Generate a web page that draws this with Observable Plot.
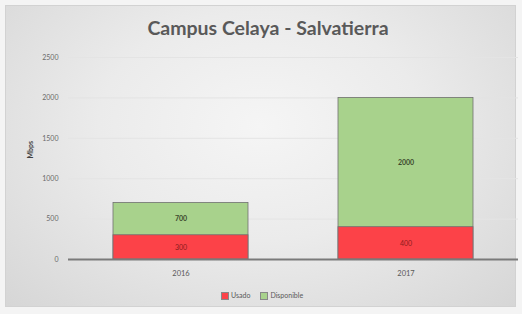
<!DOCTYPE html>
<html><head><meta charset="utf-8">
<script src="https://cdn.jsdelivr.net/npm/d3@7"></script>
<script src="https://cdn.jsdelivr.net/npm/@observablehq/plot@0.6"></script>
<style>
body{margin:0;background:#f4f4f4;}
#wrap{position:relative;width:522px;height:314px;overflow:hidden;font-family:Lato,"Open Sans",sans-serif;}
#panel{position:absolute;left:5px;top:5px;width:511px;height:302px;box-sizing:border-box;
 background:radial-gradient(ellipse at 50% 40%, #f5f5f5 0%, #ebebeb 45%, #d6d6d6 100%);border:1px solid #d2d2d2;}
#title{position:absolute;left:0;width:536px;top:16px;text-align:center;font-weight:bold;font-size:19.5px;color:#595959;}
#chart{position:absolute;left:0;top:0;}
#legend{position:absolute;top:291px;left:221px;font-size:7px;color:#595959;display:flex;align-items:center;gap:4px;}
.sw{display:inline-block;width:6px;height:6px;margin-right:2px;vertical-align:middle;}
</style></head>
<body>
<div id="wrap"><div id="panel"></div><div id="title">Campus Celaya - Salvatierra</div><div id="chart"></div>
<div id="legend"></div></div>
<script>
const years = ["2016", "2017"];
const usado = [300, 400];
const disponible = [700, 2000];
const yTicks = [0, 500, 1000, 1500, 2000, 2500];
const seriesNames = ["Usado", "Disponible"];
const seriesColors = ["#fc4248", "#a8d28c"];

const rows = years.map((yr, i) => ({year: yr, usado: usado[i], disponible: disponible[i]}));

const plot = Plot.plot({
  width: 522, height: 314,
  marginLeft: 68, marginRight: 4, marginTop: 57, marginBottom: 55,
  style: {background: "transparent", fontFamily: "Lato, sans-serif", overflow: "visible"},
  x: {domain: years, paddingInner: 0.4, paddingOuter: 0.2, label: null},
  y: {domain: [0, 2500], ticks: yTicks, label: null},
  marks: [
    Plot.gridY(yTicks, {stroke: "#e4e4e4", strokeOpacity: 1, strokeWidth: 1}),
    Plot.barY(rows, {x: "year", y1: 0, y2: "disponible", fill: seriesColors[1], stroke: "#707070", strokeWidth: 0.8}),
    Plot.barY(rows, {x: "year", y1: 0, y2: "usado", fill: seriesColors[0], stroke: "#707070", strokeWidth: 0.8}),
    Plot.ruleY([0], {stroke: "#7a7a7a", strokeWidth: 2}),
    Plot.axisY(yTicks, {tickSize: 0, tickPadding: 10, fontSize: 7, fill: "#6a6a6a", label: null, tickFormat: d3.format("d")}),
    Plot.axisX({tickSize: 0, tickPadding: 11, fontSize: 7.5, fill: "#595959", label: null}),
    Plot.text(rows, {x: "year", y: d => d.usado / 2, text: d => String(d.usado), fontSize: 7, fill: "#8a1c1c"}),
    Plot.text(rows, {x: "year", y: d => (d.usado + d.disponible) / 2, text: d => String(d.disponible), fontSize: 7, fontWeight: "bold", fill: "#3d4a2e"}),
    Plot.text(["Mbps"], {frameAnchor: "left", dx: -38, dy: 0, rotate: -90, fontSize: 7, fontWeight: "bold", fill: "#404040"})
  ]
});
document.getElementById("chart").appendChild(plot);

const lg = document.getElementById("legend");
seriesNames.forEach((n, i) => {
  const s = document.createElement("span");
  s.innerHTML = `<span class="sw" style="background:${seriesColors[i]};border:1px solid #888"></span>${n}`;
  s.style.marginRight = "6px";
  lg.appendChild(s);
});
</script>
</body></html>
